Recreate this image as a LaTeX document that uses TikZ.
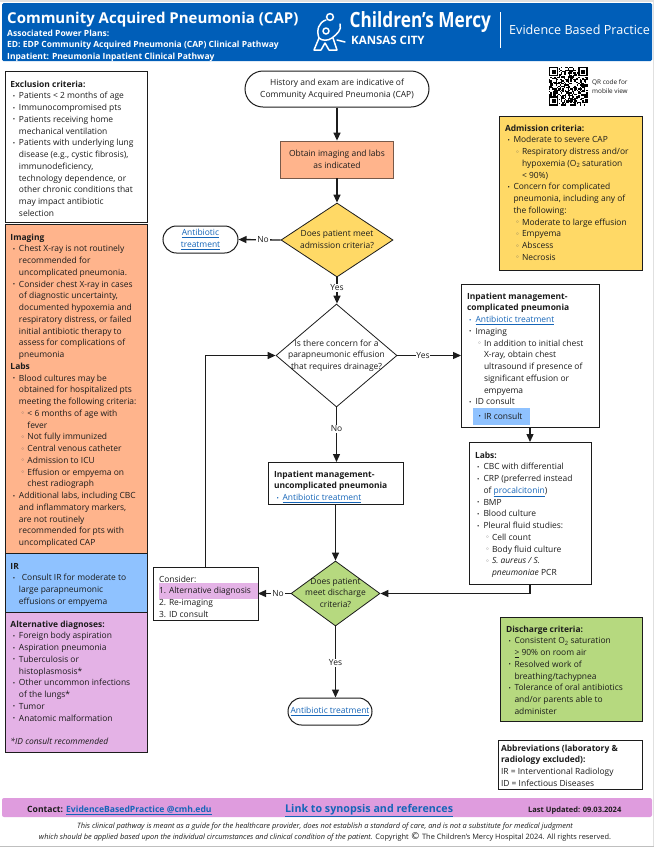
\documentclass[tikz,border=0pt]{standalone}
\usepackage{fontspec}
\setmainfont{Open Sans}
\newfontfamily\dejavu{DejaVu Sans}
\usetikzlibrary{arrows.meta,shapes.geometric,calc}
\definecolor{hdrblue}{HTML}{005EB8}
\definecolor{peach}{HTML}{FFB48C}
\definecolor{irblue}{HTML}{8FC2FF}
\definecolor{lilac}{HTML}{E4B2E6}
\definecolor{gold}{HTML}{FFD966}
\definecolor{leaf}{HTML}{B6D97F}
\definecolor{footer}{HTML}{DF9CDE}
\definecolor{lnk}{HTML}{1565B8}
\definecolor{ink}{HTML}{1C1C1C}
\newcommand\circb{\raisebox{.4pt}{\fontsize{6.5}{6.5}\dejavu\color{ink!75}◦}}
\newcommand\dotb{\raisebox{.5pt}{\fontsize{6.2}{6.2}\selectfont •}}
\newcommand\Bu{\hspace*{2.5pt}\makebox[6pt][l]{\dotb}}
\newcommand\Cn{\hspace*{8.5pt}}
\newcommand\Su{\hspace*{10.5pt}\makebox[6.5pt][l]{\circb}}
\newcommand\Sn{\hspace*{17pt}}
\newcommand\lnkt[1]{\textcolor{lnk}{\underline{#1}}}
\newcommand\sub[1]{\raisebox{-1.5pt}{\fontsize{5.8}{6}\selectfont #1}}
\newcommand\ptext[5]{\parbox[c][#2pt][t]{#1pt}{\leftskip=#4pt\relax\rightskip=0pt plus 1fil\relax\parindent=0pt\lineskiplimit=-100pt\relax\rule{0pt}{#3pt}#5\par}}
\newcommand\zbox[1]{\vbox to 0pt{\vss\hbox to 0pt{\hss\begin{tabular}{@{}c@{}}#1\end{tabular}\hss}\vss}}
\tikzset{
  panel/.style={rectangle,draw=#1,line width=1pt,inner sep=0pt,outer sep=0pt,anchor=north west,font=\fontsize{8.45}{11.75}\selectfont,text=ink},
  panel/.default=ink,
  pill/.style={rectangle,draw=ink,line width=1pt,rounded corners=#1,inner sep=0pt,font=\fontsize{8.45}{11.75}\selectfont,text=ink,align=center},
  deci/.style={diamond,draw=ink,line width=.8pt,inner sep=0pt,font=\fontsize{8.45}{11.75}\selectfont,text=ink},
  conn/.style={draw=ink,line width=1.3pt,-{Triangle[length=8pt,width=7pt]}},
  tag/.style={fill=white,inner sep=.8pt,font=\fontsize{8.45}{10}\selectfont,text=ink},
  hdr/.style={anchor=west,inner sep=0pt,text=white,font=\fontsize{#1}{#1}\selectfont\bfseries},
  foot/.style={anchor=base west,inner sep=0pt,text=ink,font=\fontsize{#1}{#1}\selectfont\bfseries}
}
\begin{document}
\begin{tikzpicture}[x=1pt,y=-1pt]
\useasboundingbox (0,0) rectangle (654,847);
\fill[white] (0,0) rectangle (654,847);
\fill[black!12] (0,0) rectangle (654,2);
\fill[black!12] (652.5,0) rectangle (654,847);
\fill[black!25] (0,846) rectangle (654,847);
% header
\fill[hdrblue,rounded corners=1.5pt] (2,3) rectangle (652,61);
\node[hdr=15] (title) at (7,20) {Community Acquired Pneumonia (CAP)};
\node[hdr=8.5] (h1) at (7,33) {Associated Power Plans:};
\node[hdr=8.5] (h2) at (7,45) {ED: EDP Community Acquired Pneumonia (CAP) Clinical Pathway};
\node[hdr=8.5] (h3) at (7,57) {Inpatient: Pneumonia Inpatient Clinical Pathway};
% logo mark
\begin{scope}[draw=white,line width=1.5pt,line cap=round,line join=round]
\draw (330,17) circle (3.4);
\draw (326,20) .. controls (319,22) and (316,30) .. (319,38) .. controls (322,41) and (328,41) .. (332,38) .. controls (337,34) and (342,30) .. (340,24);
\draw (326,31) circle (3);
\draw (319,38) -- (314,50) -- (321,50) -- (325,43) -- (329,50) -- (337,50) -- (333,38);
\draw (337,40) -- (345,42);
\end{scope}
\node[hdr=21] (cm) at (349.5,22.5) {\scalebox{.82}[1]{Children’s Mercy}};
\node[hdr=11.5] (kc) at (351,40) {KANSAS CITY};
\draw[white,line width=.7pt] (500,12) -- (500,48);
\node[anchor=west,inner sep=0pt,text=white,font=\fontsize{12.6}{13}\selectfont] (ebp) at (509,30) {Evidence Based Practice};
% left column
\node[panel] (excl) at (5,71) {\ptext{142}{151}{16}{5.5}{\textbf{Exclusion criteria:}\\
\Bu Patients < 2 months of age\\
\Bu Immunocompromised pts\\
\Bu Patients receiving home\\
\Cn mechanical ventilation\\
\Bu Patients with underlying lung\\
\Cn disease (e.g., cystic fibrosis),\\
\Cn immunodeficiency,\\
\Cn technology dependence, or\\
\Cn other chronic conditions that\\
\Cn may impact antibiotic\\
\Cn selection}};
\node[panel,fill=peach] (imaging) at (5,224.5) {\ptext{142}{329}{15.5}{5.5}{\textbf{Imaging}\\
\Bu Chest X-ray is not routinely\\
\Cn recommended for\\
\Cn uncomplicated pneumonia.\\
\Bu Consider chest X-ray in cases\\
\Cn of diagnostic uncertainty,\\
\Cn documented hypoxemia and\\
\Cn respiratory distress, or failed\\
\Cn initial antibiotic therapy to\\
\Cn assess for complications of\\
\Cn pneumonia\\
\textbf{Labs}\\
\Bu Blood cultures may be\\
\Cn obtained for hospitalized pts\\
\Cn meeting the following criteria:\\
\Su < 6 months of age with\\
\Sn fever\\
\Su Not fully immunized\\
\Su Central venous catheter\\
\Su Admission to ICU\\
\Su Effusion or empyema on\\
\Sn chest radiograph\\
\Bu Additional labs, including CBC\\
\Cn and inflammatory markers,\\
\Cn are not routinely\\
\Cn recommended for pts with\\
\Cn uncomplicated CAP}};
\node[panel,fill=irblue] (ir) at (5,553.5) {\ptext{142}{58.5}{15.5}{5.5}{\textbf{IR}\\
\Bu\,\,Consult IR for moderate to\\
\Cn large parapneumonic\\
\Cn effusions or empyema}};
\node[panel,fill=lilac] (alt) at (5,612) {\ptext{142}{140}{15}{5.5}{\textbf{Alternative diagnoses:}\\
\Bu Foreign body aspiration\\
\Bu Aspiration pneumonia\\
\Bu Tuberculosis or\\
\Cn histoplasmosis*\\
\Bu Other uncommon infections\\
\Cn of the lungs*\\
\Bu Tumor\\
\Bu Anatomic malformation\\[11.75pt]
\textit{*ID consult recommended}}};
% flow
\node[pill=18,minimum width=184pt,minimum height=36pt] (start) at (337,89) {History and exam are indicative of\\Community Acquired Pneumonia (CAP)};
\node[rectangle,draw=ink!60!peach,line width=.8pt,fill=peach,minimum width=113pt,minimum height=37pt,inner sep=0pt,align=center,text=ink,font=\fontsize{8.45}{11.75}\selectfont] (obtain) at (337,159.5) {Obtain imaging and labs\\as indicated};
\node[deci,fill=gold,minimum width=112pt,minimum height=74pt] (dAdm) at (337,240) {\zbox{Does patient meet\\admission criteria?}};
\node[pill=13.5,minimum width=75pt,minimum height=27pt] (abxA) at (200.5,239.5) {\lnkt{Antibiotic}\\\lnkt{treatment}};
\node[deci,fill=white,minimum width=121pt,minimum height=103pt] (dEff) at (336.5,355.5) {\zbox{Is there concern for a\\parapneumonic effusion\\that requires drainage?}};
\node[panel] (unc) at (268,462) {\ptext{135}{42}{15}{6}{\textbf{Inpatient management-}\\
\textbf{uncomplicated pneumonia}\\
\hspace*{2.5pt}\makebox[6pt][l]{\color{lnk}\dotb}\lnkt{Antibiotic treatment}}};
\node[deci,fill=leaf,minimum width=89pt,minimum height=65pt] (dDis) at (335.5,593.5) {\zbox{Does patient\\meet discharge\\criteria?}};
\fill[lilac] (159,583) rectangle (258,599);
\node[panel] (consider) at (153,567) {\ptext{105}{53}{15}{6}{Consider:\\1. Alternative diagnosis\\2. Re-imaging\\3. ID consult}};
\node[pill=13.5,minimum width=84pt,minimum height=27pt] (abxB) at (330,711.5) {\lnkt{Antibiotic treatment}};
\fill[irblue] (473,408) rectangle (530,425);
\node[panel] (comp) at (461,284) {\ptext{138}{143}{15}{6}{\textbf{Inpatient management-}\\
\textbf{complicated pneumonia}\\
\hspace*{2pt}\makebox[6.5pt][l]{\color{lnk}\dotb}\lnkt{Antibiotic treatment}\\
\hspace*{2pt}\makebox[6.5pt][l]{\dotb}Imaging\\
\hspace*{10.5pt}\makebox[6.5pt][l]{\circb}In addition to initial chest\\
\hspace*{17pt}X-ray, obtain chest\\
\hspace*{17pt}ultrasound if presence of\\
\hspace*{17pt}significant effusion or\\
\hspace*{17pt}empyema\\
\hspace*{2pt}\makebox[6.5pt][l]{\dotb}ID consult\\[2.5pt]
\hspace*{11.5pt}\makebox[5.5pt][l]{\dotb}IR consult}};
\node[panel] (labs) at (469,442) {\ptext{122}{142}{16}{6}{\textbf{Labs:}\\
\hspace*{2pt}\makebox[6.5pt][l]{\dotb}CBC with differential\\
\hspace*{2pt}\makebox[6.5pt][l]{\dotb}CRP (preferred instead\\
\hspace*{8.5pt}of \lnkt{procalcitonin})\\
\hspace*{2pt}\makebox[6.5pt][l]{\dotb}BMP\\
\hspace*{2pt}\makebox[6.5pt][l]{\dotb}Blood culture\\
\hspace*{2pt}\makebox[6.5pt][l]{\dotb}Pleural fluid studies:\\
\hspace*{10.5pt}\makebox[6.5pt][l]{\circb}Cell count\\
\hspace*{10.5pt}\makebox[6.5pt][l]{\circb}Body fluid culture\\
\hspace*{10.5pt}\makebox[6.5pt][l]{\circb}\textit{S. aureus / S.}\\
\hspace*{17pt}\textit{pneumoniae} PCR}};
% right column
\node[panel,fill=gold] (adm) at (499,116) {\ptext{143}{154}{15}{6}{\textbf{Admission criteria:}\\
\Bu Moderate to severe CAP\\
\Su Respiratory distress and/or\\
\Sn hypoxemia (O\sub{2} saturation\\
\Sn < 90\%)\\
\Bu Concern for complicated\\
\Cn pneumonia, including any of\\
\Cn the following:\\
\Su Moderate to large effusion\\
\Su Empyema\\
\Su Abscess\\
\Su Necrosis}};
\node[panel,fill=leaf] (disc) at (500,617) {\ptext{142}{104}{15}{6}{\textbf{Discharge criteria:}\\
\Bu Consistent O\sub{2} saturation\\
\Cn \underline{>} 90\% on room air\\
\Bu Resolved work of\\
\Cn breathing/tachypnea\\
\Bu Tolerance of oral antibiotics\\
\Cn and/or parents able to\\
\Cn administer}};
\node[panel] (abbr) at (498,740) {\ptext{144}{49}{11}{3}{\textbf{Abbreviations (laboratory \&}\\
\textbf{radiology excluded):}\\
IR = Interventional Radiology\\
ID = Infectious Diseases}};
% connectors
\draw[conn] (start.south) -- (start.south |- obtain.north);
\draw[conn] (obtain.south) -- (obtain.south |- dAdm.north);
\draw[conn] (dAdm.west) -- (abxA.east);
\draw[conn] (dAdm.south) -- (dAdm.south |- dEff.north);
\draw[conn] (dEff.east) -- (dEff.east -| comp.west);
\draw[conn] (dEff.south) -- (dEff.south |- unc.north);
\draw[conn] (unc.south) -- (unc.south |- dDis.north);
\draw[conn] (dDis.west) -- (consider.east);
\draw[conn] (dDis.south) -- (dDis.south |- abxB.north);
\draw[conn] (comp.south) -- (comp.south |- labs.north);
\draw[conn] (labs.south) |- (dDis.east);
\draw[conn] (consider.north) |- (dEff.west);
% connector labels
\node[tag] (lNoA) at (263,240) {No};
\node[tag] (lYesA) at (337,288) {Yes};
\node[tag] (lYesE) at (423,355.5) {Yes};
\node[tag] (lNoE) at (336.5,429) {No};
\node[tag] (lNoD) at (278,594) {No};
\node[tag] (lYesD) at (335.5,663) {Yes};
% QR
\begin{scope}[shift={(549,67)}]
\pgfmathsetseed{4711}
\foreach \i in {0,...,28}{\foreach \j in {0,...,28}{
  \pgfmathrandominteger{\qr}{0}{1}
  \ifnum\qr=1 \fill[black] (\i*1.33,\j*1.33) rectangle ++(1.4,1.4);\fi
}}
\foreach \a/\b in {0/0,22/0,0/22}{
  \fill[white] (\a*1.33-.3,\b*1.33-.3) rectangle ++(10.6,10.6);
  \fill[black] (\a*1.33,\b*1.33) rectangle ++(9.4,9.4);
  \fill[white] (\a*1.33+1.33,\b*1.33+1.33) rectangle ++(6.7,6.7);
  \fill[black] (\a*1.33+2.66,\b*1.33+2.66) rectangle ++(4,4);
}
\end{scope}
\node[anchor=north west,inner sep=0pt,align=left,text=ink,font=\fontsize{6.4}{9.5}\selectfont] (qrt) at (592,79) {QR code for\\mobile view};
% footer
\fill[footer,rounded corners=2pt] (2,798) rectangle (652,817);
\node[foot=8.6] (contact) at (27,812) {Contact: \lnkt{EvidenceBasedPractice @cmh.edu}};
\node[foot=10.7,text=lnk] (syn) at (285,812.5) {\underline{Link to synopsis and references}};
\node[foot=7.5] (upd) at (528,812) {Last Updated: 09.03.2024};
\node[inner sep=0pt,align=center,text=ink,font=\fontsize{7.4}{10.2}\selectfont\itshape] (disc1) at (325,832) {This clinical pathway is meant as a guide for the healthcare provider, does not establish a standard of care, and is not a substitute for medical judgment\\which should be applied based upon the individual circumstances and clinical condition of the patient. {\upshape Copyright {\dejavu\fontsize{9.5}{9.5}\selectfont ©} The Children’s Mercy Hospital 2024.  All rights reserved.}};
\end{tikzpicture}
\end{document}
